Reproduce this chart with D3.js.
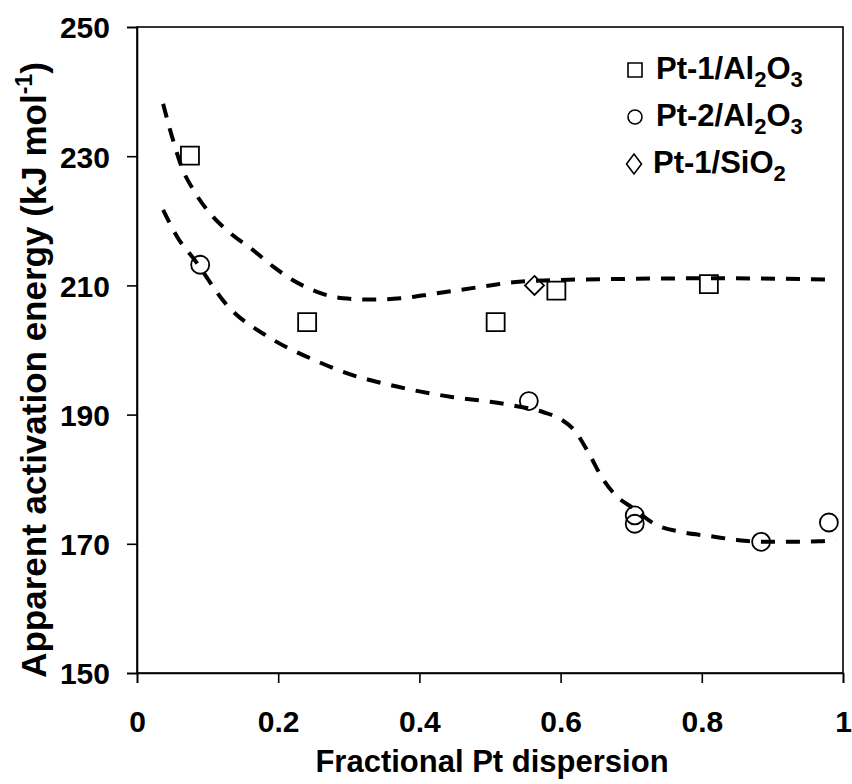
<!DOCTYPE html>
<html>
<head>
<meta charset="utf-8">
<script src="https://cdn.jsdelivr.net/npm/d3@7"></script>
<style>
  body { margin: 0; background: #fff; }
  text { font-family: Arial, "Liberation Sans", sans-serif; font-weight: bold; fill: #000; }
</style>
</head>
<body>
<div id="chart"></div>
<script>
const pt1AlX = [0.075, 0.241, 0.508, 0.594, 0.810];
const pt1AlY = [230.1, 204.3, 204.3, 209.2, 210.2];
const pt2AlX = [0.0895, 0.555, 0.705, 0.705, 0.884, 0.980];
const pt2AlY = [213.2, 192.1, 174.4, 173.1, 170.3, 173.3];
const pt1SiX = [0.563];
const pt1SiY = [210.0];

// dashed guide curves (traced)
const upperFitX = [0.037, 0.051, 0.063, 0.082, 0.103, 0.132, 0.164, 0.193, 0.221, 0.255, 0.292, 0.333, 0.373, 0.42, 0.458, 0.5, 0.533, 0.59, 0.684, 0.826, 0.99];
const upperFitY = [238.1, 232.5, 228.4, 224.4, 221.2, 218.1, 215.5, 212.9, 210.8, 209.0, 208.0, 207.8, 208.0, 208.7, 209.3, 210.0, 210.5, 210.8, 211.0, 211.1, 210.9];
const lowerFitX = [0.037, 0.057, 0.082, 0.127, 0.188, 0.25, 0.3, 0.35, 0.4, 0.448, 0.5, 0.538, 0.575, 0.6, 0.62, 0.64, 0.66, 0.68, 0.703, 0.731, 0.772, 0.811, 0.85, 0.89, 0.93, 0.967, 0.99];
const lowerFitY = [221.7, 217.5, 213.9, 207.0, 201.9, 198.5, 196.3, 194.8, 193.6, 192.7, 192.0, 191.3, 190.4, 189.3, 187.5, 184.0, 180.0, 177.3, 175.5, 173.2, 171.8, 171.2, 170.6, 170.3, 170.3, 170.4, 170.6];

const xTicks = [0, 0.2, 0.4, 0.6, 0.8, 1];
const yTicks = [150, 170, 190, 210, 230, 250];

const legendNames = [
  ["Pt-1/Al", "2", "O", "3"],
  ["Pt-2/Al", "2", "O", "3"],
  ["Pt-1/SiO", "2"]
];
const legendShapes = ["square", "circle", "diamond"];

(function() {
  var W = 852, H = 784;
  var left = 137, right = 843, top = 27, bottom = 673;

  var x = d3.scaleLinear().domain([0, 1]).range([left, right]);
  var y = d3.scaleLinear().domain([150, 250]).range([bottom, top]);

  var svg = d3.select("#chart").append("svg")
    .attr("width", W).attr("height", H);

  // frame
  svg.append("rect")
    .attr("x", left).attr("y", top)
    .attr("width", right - left).attr("height", bottom - top)
    .attr("fill", "none").attr("stroke", "#000").attr("stroke-width", 1.6);

  var xAxis = svg.append("g")
    .attr("transform", "translate(0," + bottom + ")")
    .call(d3.axisBottom(x).tickValues(xTicks).tickSize(10).tickPadding(28)
      .tickFormat(function(d) { return d === 0 || d === 1 ? d : d3.format(".1f")(d); }));
  var yAxis = svg.append("g")
    .attr("transform", "translate(" + left + ",0)")
    .call(d3.axisLeft(y).tickValues(yTicks).tickSize(10).tickPadding(17));

  [xAxis, yAxis].forEach(function(g) {
    g.select(".domain").attr("stroke", "#000").attr("stroke-width", 1.6);
    g.selectAll(".tick line").attr("stroke", "#000").attr("stroke-width", 1.6);
    g.selectAll(".tick text")
      .style("font-family", "Arial, 'Liberation Sans', sans-serif")
      .style("font-weight", "bold").style("font-size", "30px").attr("fill", "#000");
  });
  yAxis.selectAll(".tick text").attr("dy", "0.36em");

  // axis titles
  svg.append("text")
    .attr("x", (left + right) / 2 + 2).attr("y", 772)
    .attr("text-anchor", "middle").style("font-size", "31px")
    .text("Fractional Pt dispersion");

  var yt = svg.append("text")
    .attr("transform", "translate(46,370) rotate(-90)")
    .attr("text-anchor", "middle").style("font-size", "35px");
  yt.append("tspan").text("Apparent activation energy (kJ mol");
  yt.append("tspan").attr("dy", -14).style("font-size", "23px").text("-1");
  yt.append("tspan").attr("dy", 14).text(")");

  // dashed curves
  var line = d3.line()
    .x(function(d) { return x(d[0]); })
    .y(function(d) { return y(d[1]); })
    .curve(d3.curveMonotoneX);

  [[upperFitX, upperFitY], [lowerFitX, lowerFitY]].forEach(function(c) {
    svg.append("path")
      .datum(d3.zip(c[0], c[1]))
      .attr("d", line)
      .attr("fill", "none").attr("stroke", "#000")
      .attr("stroke-width", 4).attr("stroke-dasharray", "14,11");
  });

  function shapePath(shape, s) {
    if (shape === "square") return "M" + (-s/2) + "," + (-s/2) + "h" + s + "v" + s + "h" + (-s) + "Z";
    if (shape === "circle") { var r = s/2; return "M" + (-r) + ",0a" + r + "," + r + " 0 1,0 " + s + ",0a" + r + "," + r + " 0 1,0 " + (-s) + ",0Z"; }
    return "M0," + (-s/2) + "L" + (s/2) + ",0L0," + (s/2) + "L" + (-s/2) + ",0Z";
  }

  var series = [
    { xs: pt1AlX, ys: pt1AlY, shape: "square", size: 18 },
    { xs: pt2AlX, ys: pt2AlY, shape: "circle", size: 18 },
    { xs: pt1SiX, ys: pt1SiY, shape: "diamond", size: 19 }
  ];

  series.forEach(function(s) {
    svg.append("g").selectAll("path")
      .data(d3.zip(s.xs, s.ys))
      .enter().append("path")
      .attr("transform", function(d) { return "translate(" + x(d[0]) + "," + y(d[1]) + ")"; })
      .attr("d", shapePath(s.shape, s.size))
      .attr("fill", "none").attr("stroke", "#000").attr("stroke-width", 1.8);
  });

  // legend
  var leg = svg.append("g");
  legendNames.forEach(function(parts, i) {
    var cy = 70 + i * 47;
    var shape = legendShapes[i];
    var mk = leg.append("path")
      .attr("fill", "none").attr("stroke", "#000").attr("stroke-width", 1.6);
    if (shape === "diamond") {
      mk.attr("d", "M0,-10L7.5,0L0,10L-7.5,0Z").attr("transform", "translate(634," + cy + ")");
    } else {
      mk.attr("d", shapePath(shape, 14)).attr("transform", "translate(635," + cy + ")");
    }
    var t = leg.append("text")
      .attr("x", shape === "diamond" ? 653 : 656).attr("y", cy + 9)
      .style("font-size", "31px");
    parts.forEach(function(p, j) {
      var sub = j % 2 === 1;
      var ts = t.append("tspan").text(p);
      if (sub) ts.attr("dy", 8).style("font-size", "22px");
      else if (j > 0) ts.attr("dy", -8);
    });
  });
})();
</script>
</body>
</html>
